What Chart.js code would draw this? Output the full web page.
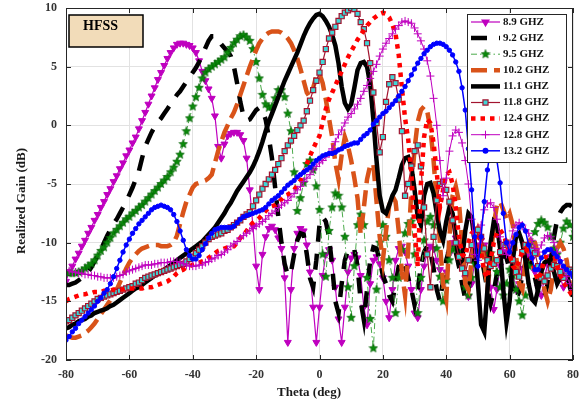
<!DOCTYPE html>
<html>
<head>
<meta charset="utf-8">
<script src="https://cdn.jsdelivr.net/npm/chart.js@4.4.1/dist/chart.umd.min.js"></script>
<style>
  html, body { margin: 0; padding: 0; background: #fff; }
  canvas { display: block; }
</style>
</head>
<body>
<canvas id="gainChart" width="582" height="405"></canvas>
<script>
'use strict';

//*********** data ***********
let theta = [
  -80, -79, -78, -77, -76, -75, -74, -73, -72, -71,
  -70, -69, -68, -67, -66, -65, -64, -63, -62, -61,
  -60, -59, -58, -57, -56, -55, -54, -53, -52, -51,
  -50, -49, -48, -47, -46, -45, -44, -43, -42, -41,
  -40, -39, -38, -37, -36, -35, -34, -33, -32, -31,
  -30, -29, -28, -27, -26, -25, -24, -23, -22, -21,
  -20, -19, -18, -17, -16, -15, -14, -13, -12, -11,
  -10, -9, -8, -7, -6, -5, -4, -3, -2, -1,
  0, 1, 2, 3, 4, 5, 6, 7, 8, 9,
  10, 11, 12, 13, 14, 15, 16, 17, 18, 19,
  20, 21, 22, 23, 24, 25, 26, 27, 28, 29,
  30, 31, 32, 33, 34, 35, 36, 37, 38, 39,
  40, 41, 42, 43, 44, 45, 46, 47, 48, 49,
  50, 51, 52, 53, 54, 55, 56, 57, 58, 59,
  60, 61, 62, 63, 64, 65, 66, 67, 68, 69,
  70, 71, 72, 73, 74, 75, 76, 77, 78, 79,
  80
];

let seriesNames = ['8.9 GHZ', '9.2 GHZ', '9.5 GHZ', '10.2 GHZ', '11.1 GHZ', '11.8 GHZ', '12.4 GHZ', '12.8 GHZ', '13.2 GHZ'];

let gain89 = [
  -13.3, -12.5, -12.0, -11.4, -10.9, -10.3, -9.8, -9.2, -8.7, -8.1,
  -7.6, -7.0, -6.5, -5.9, -5.4, -4.8, -4.3, -3.7, -3.2, -2.6,
  -2.1, -1.5, -1.0, -0.3, 0.4, 1.1, 1.8, 2.5, 3.2, 3.9,
  4.5, 5.1, 5.7, 6.2, 6.6, 6.9, 7.0, 7.0, 6.9, 6.8,
  6.6, 6.2, 5.5, 4.6, 3.8, 3.1, 2.3, 0.8, -1.8, -2.8,
  -1.6, -0.9, -0.7, -0.6, -0.6, -0.8, -1.3, -2.8, -5.5, -8.6,
  -12.0, -14.0, -11.0, -9.5, -8.8, -8.6, -8.9, -9.6, -10.5, -13.0,
  -18.5, -14.0, -10.5, -9.2, -8.8, -9.0, -10.2, -12.5, -15.5, -18.5,
  -15.5, -12.8, -11.0, -10.6, -11.5, -13.8, -16.5, -18.5, -15.5, -12.5,
  -11.3, -11.0, -11.3, -12.8, -15.5, -17.0, -13.5, -11.5, -11.2, -11.8,
  -13.0, -15.0, -16.4, -14.0, -11.5, -10.5, -10.3, -10.8, -12.0, -14.0,
  -16.0, -16.4, -14.0, -12.0, -10.8, -10.3, -10.5, -11.5, -12.3, -13.5,
  -12.5, -11.0, -10.0, -9.6, -10.0, -11.2, -13.0, -14.6, -13.5, -11.5,
  -10.2, -9.8, -10.2, -11.5, -13.8, -15.7, -14.0, -12.0, -11.0, -10.8,
  -11.3, -12.5, -14.0, -13.5, -12.2, -11.3, -11.0, -11.4, -12.5, -13.8,
  -14.5, -13.0, -11.8, -11.2, -11.3, -12.0, -13.0, -13.8, -13.0, -12.5,
  -12.3
];

let gain92 = [
  -13.6, -13.6, -13.5, -13.4, -13.2, -13.0, -12.8, -12.5, -12.1, -11.6,
  -11.1, -10.6, -10.0, -9.4, -8.9, -8.4, -8.0, -7.5, -7.0, -6.5,
  -5.9, -5.3, -4.6, -3.9, -2.8, -1.8, -1.2, -0.6, -0.1, 0.3,
  0.6, 1.0, 1.4, 1.8, 2.2, 2.6, 2.9, 3.3, 3.7, 4.1,
  4.5, 4.9, 5.4, 6.0, 6.6, 7.2, 7.6, 7.6, 7.3, 6.9,
  6.6, 6.3, 5.9, 5.0, 3.6, 2.0, 0.8, 0.4, 0.5, 0.9,
  1.3, 1.5, 1.3, 0.5, -1.0, -2.8, -5.3, -7.8, -10.0, -11.8,
  -12.8, -12.5, -11.0, -9.8, -9.2, -9.3, -11.0, -13.0, -13.8, -11.5,
  -8.5, -7.8, -8.2, -9.5, -12.0, -15.0, -16.0, -13.5, -11.5, -10.6,
  -10.4, -10.6, -12.0, -15.0, -16.6, -14.0, -11.5, -10.4, -10.5, -11.5,
  -12.8, -13.5, -14.5, -15.0, -13.5, -12.0, -11.5, -12.0, -13.0, -14.0,
  -15.3, -14.0, -12.0, -10.8, -10.3, -10.8, -12.2, -14.0, -15.0, -13.2,
  -11.5, -10.5, -10.2, -10.8, -12.0, -13.5, -14.8, -14.0, -12.3, -11.2,
  -10.8, -11.2, -12.5, -14.0, -15.2, -14.2, -12.6, -11.5, -11.0, -11.3,
  -12.3, -13.8, -14.8, -14.2, -12.8, -11.8, -11.5, -11.9, -13.0, -14.2,
  -14.8, -14.6, -13.5, -11.5, -9.5, -8.0, -7.4, -7.0, -6.8, -6.8,
  -7.0
];

let gain95 = [
  -12.5, -12.6, -12.6, -12.6, -12.5, -12.4, -12.2, -12.0, -11.8, -11.5,
  -11.1, -10.7, -10.4, -10.0, -9.6, -9.2, -8.9, -8.6, -8.3, -8.0,
  -7.8, -7.5, -7.3, -7.0, -6.8, -6.5, -6.2, -5.9, -5.6, -5.3,
  -5.0, -4.7, -4.4, -4.0, -3.6, -3.1, -2.5, -1.6, -0.5, 0.6,
  1.6, 2.4, 3.2, 4.0, 4.5, 4.8, 5.0, 5.2, 5.4, 5.6,
  5.8, 6.2, 6.6, 7.0, 7.3, 7.6, 7.7, 7.5, 7.2, 6.5,
  5.4, 4.0, 2.6, 1.8, 1.5, 1.6, 2.3, 3.0, 3.0, 2.4,
  1.0, -0.5, -4.0, -7.3, -6.2, -4.9, -3.3, -3.0, -3.8, -5.2,
  -7.2, -11.0, -12.9, -9.0, -7.0, -5.8, -6.0, -7.0, -9.5, -13.8,
  -16.4, -12.0, -8.5, -7.6, -8.5, -13.0, -16.5, -19.0, -14.0, -10.0,
  -8.5, -9.5, -11.5, -13.0, -16.0, -13.0, -10.6, -9.2, -8.4, -8.2,
  -11.0, -16.0, -13.0, -9.8, -8.2, -7.8, -8.5, -10.5, -12.9, -15.0,
  -13.2, -11.5, -10.6, -10.4, -10.8, -12.0, -13.8, -14.5, -13.0, -11.8,
  -11.0, -10.7, -10.8, -11.0, -10.9, -11.5, -12.5, -13.8, -14.5, -13.5,
  -12.3, -12.8, -14.0, -15.0, -16.2, -14.5, -12.0, -10.0, -9.1, -8.4,
  -8.1, -8.3, -8.7, -9.5, -10.5, -11.0, -10.0, -8.8, -8.2, -8.5,
  -9.5
];

let gain102 = [
  -17.9, -18.0, -18.1, -18.1, -18.0, -17.9, -17.7, -17.5, -17.2, -16.9,
  -16.5, -16.1, -15.7, -15.3, -14.9, -14.5, -14.0, -13.4, -12.8, -12.2,
  -11.7, -11.3, -11.0, -10.7, -10.5, -10.4, -10.3, -10.2, -10.2, -10.2,
  -10.3, -10.3, -10.3, -10.2, -10.0, -9.4, -8.4, -7.4, -6.5, -5.9,
  -5.3, -5.0, -4.9, -4.8, -4.7, -4.5, -4.2, -3.2, -2.2, -1.4,
  -0.6, 0.0, 0.6, 1.1, 1.8, 2.6, 3.4, 4.2, 5.0, 5.7,
  6.4, 7.0, 7.4, 7.7, 7.9, 8.0, 8.0, 8.0, 7.9, 7.7,
  7.4, 7.0, 6.4, 5.7, 4.8, 3.8, 2.8, 2.4, 3.2, 4.2,
  4.4, 3.6, 2.2, 0.6, -1.0, -3.2, -4.6, -2.5, -1.0, -1.8,
  -3.0, -4.5, -6.2, -9.3, -7.0, -4.6, -3.4, -3.3, -6.5, -9.5,
  -11.5, -9.0, -6.8, -6.0, -6.5, -9.0, -12.5, -14.5, -10.5, -5.5,
  -2.0, 0.3, 1.3, 1.6, 1.2, -0.3, -3.0, -6.5, -10.0, -13.5,
  -14.8, -9.5, -6.0, -5.2, -6.5, -10.0, -13.5, -14.0, -11.5, -9.5,
  -8.8, -9.5, -11.5, -14.0, -11.5, -8.5, -6.8, -6.5, -7.2, -8.0,
  -7.5, -8.5, -11.0, -13.5, -14.0, -11.5, -10.0, -9.5, -10.0, -11.0,
  -12.5, -14.0, -15.0, -14.0, -12.0, -10.5, -10.0, -10.5, -11.5, -13.5,
  -15.0
];

let gain111 = [
  -17.3, -17.2, -17.0, -16.9, -16.7, -16.6, -16.5, -16.3, -16.2, -16.0,
  -15.9, -15.8, -15.7, -15.6, -15.4, -15.3, -15.1, -14.9, -14.7, -14.5,
  -14.3, -14.1, -13.9, -13.8, -13.6, -13.4, -13.2, -13.0, -12.8, -12.7,
  -12.5, -12.3, -12.1, -11.9, -11.7, -11.5, -11.3, -11.1, -10.9, -10.7,
  -10.5, -10.3, -10.1, -9.9, -9.6, -9.3, -9.0, -8.7, -8.3, -7.9,
  -7.5, -7.0, -6.6, -6.1, -5.6, -5.2, -4.8, -4.4, -4.0, -3.5,
  -2.9, -2.2, -1.4, -0.5, 0.3, 1.0, 1.7, 2.4, 3.1, 3.8,
  4.4, 5.0, 5.6, 6.2, 6.9, 7.6, 8.2, 8.7, 9.1, 9.4,
  9.5, 9.3, 8.9, 8.4, 7.7, 6.8, 5.3, 3.3, 1.9, 1.4,
  1.8, 3.2, 4.7, 5.3, 5.4, 5.0, 3.5, 0.5, -3.0, -6.0,
  -7.3, -7.5, -6.8, -6.0, -5.5, -4.5, -3.4, -2.8, -2.7, -3.5,
  -5.5, -7.8, -8.5, -6.0, -5.0, -4.9, -5.8, -7.5, -9.0, -9.8,
  -8.2, -7.0, -7.5, -9.5, -11.8, -11.5, -9.0, -7.5, -7.8, -10.0,
  -13.5, -17.0, -17.6, -14.0, -10.0, -8.2, -8.5, -10.5, -14.0, -16.8,
  -15.0, -11.5, -9.5, -9.2, -10.0, -11.5, -13.5, -14.8, -15.1, -14.0,
  -12.5, -11.7, -11.5, -11.8, -12.5, -13.5, -13.0, -12.2, -12.5, -13.8,
  -14.6
];

let gain118 = [
  -16.7, -16.6, -16.4, -16.2, -16.0, -15.8, -15.6, -15.4, -15.2, -15.0,
  -14.8, -14.7, -14.6, -14.5, -14.4, -14.3, -14.2, -14.1, -14.0, -13.9,
  -13.8, -13.7, -13.5, -13.4, -13.2, -13.0, -12.9, -12.8, -12.7, -12.6,
  -12.5, -12.4, -12.3, -12.2, -12.1, -12.0, -11.9, -11.8, -11.6, -11.4,
  -11.2, -10.9, -10.6, -10.3, -10.0, -9.7, -9.5, -9.4, -9.3, -9.2,
  -9.0, -8.9, -8.7, -8.5, -8.3, -8.1, -7.8, -7.6, -7.4, -6.9,
  -6.4, -5.9, -5.4, -5.0, -4.6, -4.2, -3.8, -3.3, -2.8, -2.2,
  -1.7, -1.3, -0.9, -0.4, 0.0, 0.4, 1.2, 2.1, 3.0, 3.8,
  4.5, 5.4, 6.5, 7.4, 7.9, 8.4, 8.9, 9.3, 9.6, 9.8,
  10.0, 9.9, 9.5, 8.8, 8.2, 7.0, 5.3, 2.8, 0.2, -2.3,
  -1.0, 2.0, 3.5, 4.1, 3.6, 2.2, -0.5, -6.0, -5.0, -3.5,
  -2.2, -1.7, -3.5, -7.0, -11.0, -13.8, -9.5, -6.4, -5.0, -4.8,
  -5.5, -6.5, -8.1, -10.0, -11.2, -12.2, -12.6, -11.5, -10.2, -9.2,
  -8.9, -9.5, -10.5, -11.5, -12.0, -11.8, -11.5, -10.8, -10.2, -10.0,
  -10.5, -11.5, -12.5, -12.9, -10.8, -10.2, -10.3, -10.6, -10.9, -12.0,
  -13.0, -13.3, -12.8, -12.2, -11.9, -12.0, -12.5, -13.0, -12.6, -12.3,
  -12.5
];

let gain124 = [
  -15.0, -14.8, -14.7, -14.6, -14.5, -14.4, -14.4, -14.3, -14.3, -14.2,
  -14.2, -14.2, -14.1, -14.1, -14.1, -14.0, -14.0, -14.0, -14.0, -13.9,
  -13.9, -13.9, -13.9, -13.9, -13.9, -13.8, -13.8, -13.8, -13.7, -13.6,
  -13.5, -13.4, -13.3, -13.1, -12.9, -12.6, -12.4, -12.3, -12.1, -12.0,
  -11.9, -11.8, -11.7, -11.6, -11.5, -11.3, -11.1, -10.9, -10.7, -10.6,
  -10.5, -10.4, -10.3, -10.3, -10.0, -9.6, -9.3, -9.0, -8.6, -8.3,
  -8.1, -7.9, -7.6, -7.3, -7.0, -6.9, -6.8, -6.6, -6.3, -6.0,
  -5.9, -5.7, -5.5, -5.1, -4.7, -4.1, -3.3, -2.6, -2.0, -1.4,
  -0.9, 0.3, 1.4, 2.2, 2.8, 3.4, 4.0, 4.6, 5.2, 5.8,
  6.3, 6.8, 7.3, 7.7, 8.1, 8.5, 8.8, 9.1, 9.3, 9.5,
  9.6, 9.5, 9.2, 8.6, 7.8, 6.0, 3.2, 0.6, -1.2, -4.0,
  -9.0, -12.0, -5.0, -1.0, 0.5, 0.2, -1.5, -4.0, -7.0, -5.5,
  -4.2, -4.0, -5.0, -7.0, -9.5, -11.0, -11.2, -10.0, -9.2, -9.0,
  -9.5, -10.8, -12.5, -13.0, -11.5, -10.0, -9.2, -8.9, -9.3, -10.0,
  -11.0, -12.0, -12.3, -11.5, -10.8, -10.5, -10.8, -11.5, -12.5, -13.2,
  -12.5, -11.5, -10.8, -10.6, -11.0, -12.0, -12.8, -13.4, -13.8, -14.2,
  -14.6
];

let gain128 = [
  -12.3, -12.4, -12.5, -12.5, -12.6, -12.6, -12.7, -12.7, -12.8, -12.8,
  -12.9, -12.9, -13.0, -13.0, -13.0, -13.0, -12.9, -12.8, -12.7, -12.5,
  -12.4, -12.3, -12.2, -12.1, -12.0, -11.9, -11.9, -11.9, -11.8, -11.8,
  -11.7, -11.7, -11.7, -11.6, -11.6, -11.6, -11.7, -11.8, -11.9, -12.0,
  -12.0, -12.0, -11.9, -11.9, -11.7, -11.6, -11.4, -11.3, -11.1, -11.0,
  -10.8, -10.6, -10.3, -10.1, -9.9, -9.6, -9.4, -9.2, -9.0, -8.8,
  -8.6, -8.4, -8.2, -8.0, -7.7, -7.5, -7.3, -7.0, -6.8, -6.6,
  -6.4, -6.1, -5.8, -5.5, -5.2, -4.8, -4.5, -4.2, -3.8, -3.5,
  -3.2, -3.0, -2.7, -2.4, -2.0, -1.4, -0.8, -0.4, 0.2, 0.7,
  1.0, 1.4, 1.8, 2.3, 2.9, 3.4, 4.0, 4.6, 5.2, 5.9,
  6.5, 7.0, 7.4, 7.8, 8.2, 8.5, 8.8, 8.9, 8.8, 8.7,
  8.3, 7.8, 7.2, 6.5, 5.5, 4.2, 2.3, 0.0, -3.0, -6.0,
  -4.5, -2.2, -0.9, -0.4, -0.6, -1.5, -3.0, -5.0, -8.0, -11.0,
  -11.5, -8.5, -7.2, -6.7, -6.6, -7.0, -8.0, -9.5, -10.6, -11.0,
  -10.2, -9.0, -8.5, -8.3, -8.5, -8.9, -9.2, -9.8, -10.5, -10.8,
  -10.2, -9.6, -9.4, -9.5, -10.0, -10.8, -11.5, -12.2, -12.9, -13.5,
  -14.0
];

let gain132 = [
  -18.3, -18.0, -17.6, -17.3, -16.9, -16.6, -16.3, -16.0, -15.7, -15.4,
  -15.0, -14.7, -14.3, -14.0, -13.5, -12.9, -12.2, -11.5, -10.8, -10.2,
  -9.7, -9.2, -8.8, -8.4, -8.1, -7.8, -7.5, -7.2, -7.0, -6.9,
  -6.8, -6.9, -7.0, -7.2, -7.6, -8.2, -9.0, -9.8, -10.6, -11.1,
  -11.4, -11.4, -11.1, -10.6, -10.1, -9.6, -9.2, -8.9, -8.8, -8.7,
  -8.7, -8.7, -8.7, -8.6, -8.3, -8.0, -7.8, -7.7, -7.6, -7.5,
  -7.4, -7.3, -7.2, -7.0, -6.7, -6.4, -6.2, -6.0, -5.7, -5.4,
  -5.1, -4.9, -4.7, -4.4, -4.2, -4.0, -3.8, -3.6, -3.3, -3.0,
  -2.8, -2.6, -2.5, -2.4, -2.4, -2.3, -2.1, -2.0, -1.8, -1.7,
  -1.6, -1.5, -1.5, -1.2, -0.9, -0.7, -0.4, 0.1, 0.4, 0.7,
  1.0, 1.2, 1.5, 1.8, 2.1, 2.5, 2.9, 3.3, 3.8, 4.3,
  4.8, 5.3, 5.7, 6.1, 6.4, 6.7, 6.9, 7.0, 7.0, 6.9,
  6.7, 6.4, 6.0, 5.4, 4.6, 3.2, 1.3, -2.0, -5.5, -9.5,
  -12.0, -9.5, -6.5, -3.8, -2.0, -1.8, -3.0, -4.9, -7.5, -10.0,
  -10.8, -10.0, -9.3, -8.7, -8.5, -9.0, -10.2, -11.3, -12.3, -12.3,
  -11.3, -10.8, -10.6, -10.6, -10.9, -11.2, -11.6, -12.0, -12.3, -12.6,
  -12.9
];

//*********** helpers ***********
function toPoints(vals) {
  return theta.map((t, i) => ({ x: t, y: vals[i] }));
}

// filled five point star used as the 9.5 GHz marker
function makeStar(size, fill, edge) {
  let c = document.createElement('canvas');
  c.width = size;
  c.height = size;
  let g = c.getContext('2d');
  let R = size / 2 - 0.5, r = R * 0.45;
  g.beginPath();
  for (let k = 0; k < 10; k++) {
    let a = -Math.PI / 2 + k * Math.PI / 5;
    let rad = k % 2 ? r : R;
    g.lineTo(size / 2 + rad * Math.cos(a), size / 2 + rad * Math.sin(a));
  }
  g.closePath();
  g.fillStyle = fill;
  g.fill();
  g.strokeStyle = edge;
  g.lineWidth = 0.6;
  g.stroke();
  return c;
}

let starImg = makeStar(10, '#0a8a0a', '#005a00');
let serif = "'Liberation Serif', 'Times New Roman', serif";

let datasets = [
  { label: seriesNames[0], data: toPoints(gain89), borderColor: '#BF00BF', borderWidth: 1.2,
    pointStyle: 'triangle', pointRotation: 180, pointRadius: 4, pointBackgroundColor: '#BF00BF',
    pointBorderColor: '#BF00BF', pointBorderWidth: 1, order: 9 },
  { label: seriesNames[1], data: toPoints(gain92), borderColor: '#000000', borderWidth: 4.5,
    borderDash: [16, 12], pointRadius: 0, order: 8 },
  { label: seriesNames[2], data: toPoints(gain95), borderColor: '#4BAA4B', borderWidth: 1,
    borderDash: [6, 3, 1.5, 3], pointStyle: starImg, pointRadius: 5, order: 7 },
  { label: seriesNames[3], data: toPoints(gain102), borderColor: '#D95319', borderWidth: 4.5,
    borderDash: [16, 7], pointRadius: 0, order: 6 },
  { label: seriesNames[4], data: toPoints(gain111), borderColor: '#000000', borderWidth: 4.5,
    pointRadius: 0, order: 5 },
  { label: seriesNames[5], data: toPoints(gain118), borderColor: '#A2142F', borderWidth: 1.2,
    pointStyle: 'rect', pointRadius: 3.6, pointBackgroundColor: '#3FD6D6',
    pointBorderColor: '#A2142F', pointBorderWidth: 1.2, order: 4 },
  { label: seriesNames[6], data: toPoints(gain124), borderColor: '#FF0000', borderWidth: 4.5,
    borderDash: [4.5, 5], pointRadius: 0, order: 3 },
  { label: seriesNames[7], data: toPoints(gain128), borderColor: '#BF00BF', borderWidth: 1,
    pointStyle: 'cross', pointRadius: 4, pointBorderColor: '#BF00BF', pointBorderWidth: 1, order: 2 },
  { label: seriesNames[8], data: toPoints(gain132), borderColor: '#0000FF', borderWidth: 1.5,
    pointStyle: 'circle', pointRadius: 2.2, pointBackgroundColor: '#0000FF',
    pointBorderColor: '#0000FF', pointBorderWidth: 1, order: 1 }
];
datasets.forEach(d => { d.fill = false; d.tension = 0; d.borderCapStyle = 'butt'; });

// axes box, inward ticks, titles, HFSS tag and the legend box
let decorPlugin = {
  id: 'decor',
  afterDraw(chart) {
    let ctx = chart.ctx;
    let a = chart.chartArea;
    let xs = chart.scales.x, ys = chart.scales.y;
    ctx.save();

    ctx.strokeStyle = '#262626';
    ctx.lineWidth = 1;
    ctx.strokeRect(Math.round(a.left) + 0.5, Math.round(a.top) + 0.5,
      Math.round(a.right - a.left) - 1, Math.round(a.bottom - a.top) - 1);
    ctx.beginPath();
    xs.ticks.forEach(t => {
      let px = Math.round(xs.getPixelForValue(t.value)) + 0.5;
      ctx.moveTo(px, a.bottom); ctx.lineTo(px, a.bottom - 5);
      ctx.moveTo(px, a.top); ctx.lineTo(px, a.top + 5);
    });
    ys.ticks.forEach(t => {
      let py = Math.round(ys.getPixelForValue(t.value)) + 0.5;
      ctx.moveTo(a.left, py); ctx.lineTo(a.left + 5, py);
      ctx.moveTo(a.right, py); ctx.lineTo(a.right - 5, py);
    });
    ctx.stroke();

    // axis titles
    ctx.fillStyle = '#1a1a1a';
    ctx.font = 'bold 13px ' + serif;
    ctx.textAlign = 'center';
    ctx.textBaseline = 'middle';
    ctx.fillText('Theta (deg)', 309, 393);
    ctx.save();
    ctx.translate(22, 201);
    ctx.rotate(-Math.PI / 2);
    ctx.fillText('Realized Gain (dB)', 0, 0);
    ctx.restore();

    // HFSS tag
    ctx.fillStyle = '#F2DCB9';
    ctx.fillRect(69, 15, 74, 32);
    ctx.strokeStyle = '#000';
    ctx.lineWidth = 1.5;
    ctx.strokeRect(69, 15, 74, 32);
    ctx.fillStyle = '#000';
    ctx.font = 'bold 14px ' + serif;
    ctx.textAlign = 'left';
    ctx.fillText('HFSS', 83, 26);

    // legend
    ctx.fillStyle = '#fff';
    ctx.fillRect(467, 14, 99, 149);
    ctx.strokeStyle = '#262626';
    ctx.lineWidth = 1;
    ctx.strokeRect(467.5, 14.5, 99, 148);
    ctx.font = 'bold 11px ' + serif;
    chart.data.datasets.forEach((d, i) => {
      let y = 22 + i * 16.1;
      ctx.save();
      ctx.strokeStyle = d.borderColor;
      ctx.lineWidth = d.borderWidth;
      ctx.lineCap = 'butt';
      ctx.setLineDash(d.borderDash || []);
      ctx.beginPath();
      ctx.moveTo(471, y);
      ctx.lineTo(500, y);
      ctx.stroke();
      ctx.setLineDash([]);
      if (d.pointRadius) {
        ctx.fillStyle = d.pointBackgroundColor || d.borderColor;
        ctx.strokeStyle = d.pointBorderColor || d.borderColor;
        Chart.helpers.drawPoint(ctx, {
          pointStyle: d.pointStyle, radius: d.pointRadius,
          rotation: d.pointRotation || 0, borderWidth: d.pointBorderWidth || 1
        }, 485.5, y);
      }
      ctx.restore();
      ctx.fillStyle = '#111';
      ctx.textAlign = 'left';
      ctx.textBaseline = 'middle';
      ctx.fillText(d.label, 503, y);
    });
    ctx.restore();
  }
};

let tickFont = { family: serif, size: 12, weight: 'bold' };

new Chart(document.getElementById('gainChart'), {
  type: 'line',
  data: { datasets: datasets },
  options: {
    responsive: false,
    animation: false,
    devicePixelRatio: 1,
    layout: { padding: { top: 8, right: 9, left: 0, bottom: 0 } },
    plugins: { legend: { display: false }, tooltip: { enabled: false } },
    scales: {
      x: {
        type: 'linear', min: -80, max: 80,
        afterFit: s => { s.height = 45; s.paddingLeft = 0; s.paddingRight = 0; },
        ticks: { stepSize: 20, font: tickFont, color: '#333', padding: 8, maxRotation: 0 },
        grid: { color: '#E2E2E2', drawTicks: false },
        border: { display: false }
      },
      y: {
        min: -20, max: 10,
        afterFit: s => { s.width = 66; s.paddingTop = 0; s.paddingBottom = 0; },
        ticks: { stepSize: 5, font: tickFont, color: '#333', padding: 9 },
        grid: { color: '#E2E2E2', drawTicks: false },
        border: { display: false }
      }
    }
  },
  plugins: [decorPlugin]
});
</script>
</body>
</html>
